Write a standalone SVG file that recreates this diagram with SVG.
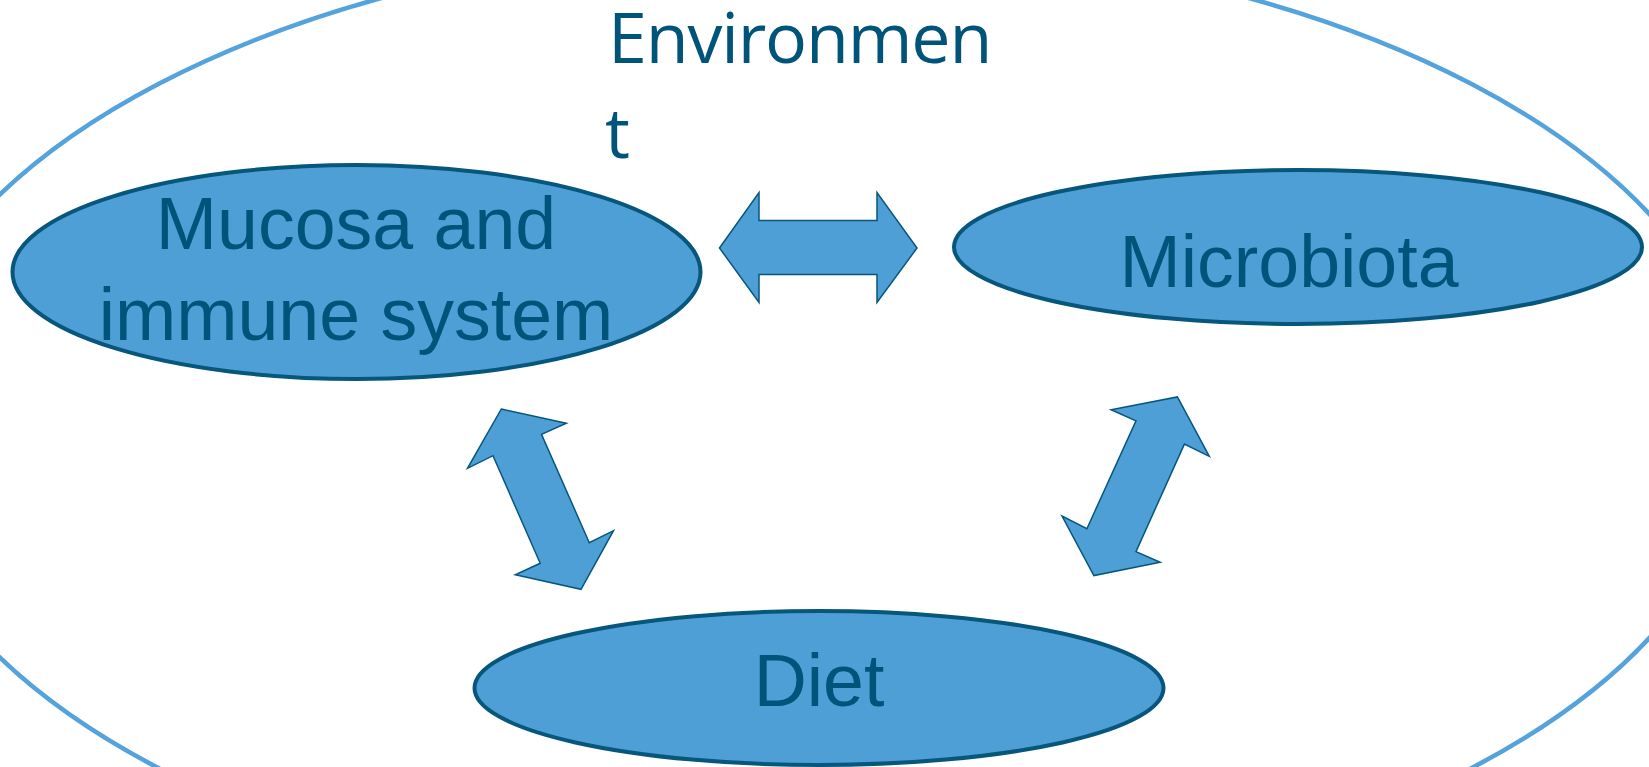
<svg xmlns="http://www.w3.org/2000/svg" width="1649" height="767" viewBox="0 0 1649 767">
<style>
.node{fill:#4F9FD7;stroke:#07567C;stroke-width:4}
.arrow{fill:#4F9FD7;stroke:#07567C;stroke-width:1.5;stroke-linejoin:miter}
.lbl{font-family:"Liberation Sans",Arial,sans-serif;font-size:73.5px;fill:#00547A;text-anchor:middle}
.env{font-family:"Open Sans","Noto Sans",sans-serif;font-size:70px;fill:#00547A;letter-spacing:-1.2px}
</style>
<rect width="1649" height="767" fill="#FFFFFF"/>
<g id="environment">
<ellipse cx="815" cy="426" rx="928" ry="484" fill="none" stroke="#55A3DD" stroke-width="4.5"/>
<text class="env" x="608" y="62.5">Environmen</text>
<text class="env" x="605" y="157.5">t</text>
</g>
<g id="connectors">
<polygon class="arrow" points="719.5,248 759,192.5 759,220.5 877,220.5 877,192.5 917,248 877,302.5 877,274.5 759,274.5 759,302.5"/>
<polygon class="arrow" points="501.3,409 566.3,423.3 541.5,434.3 589.3,542.7 613.5,530.7 581,589.3 515.3,574.7 540.2,563.3 493,455.7 467.5,468.3"/>
<polygon class="arrow" points="1177.4,396.9 1209.3,456.3 1184.4,444.1 1136,551.6 1160.2,562.2 1093.9,575.6 1062,516.1 1086.9,528.7 1136,420.9 1111.1,409.8"/>
</g>
<g id="mucosa">
<ellipse class="node" cx="356.5" cy="272" rx="344" ry="107"/>
<text class="lbl" x="356" y="249">Mucosa and</text>
<text class="lbl" x="356" y="340">immune system</text>
</g>
<g id="microbiota">
<ellipse class="node" cx="1298" cy="247" rx="344" ry="77"/>
<text class="lbl" x="1289" y="287">Microbiota</text>
</g>
<g id="diet">
<ellipse class="node" cx="819" cy="688" rx="344.5" ry="77"/>
<text class="lbl" x="819" y="705.5">Diet</text>
</g>
</svg>
